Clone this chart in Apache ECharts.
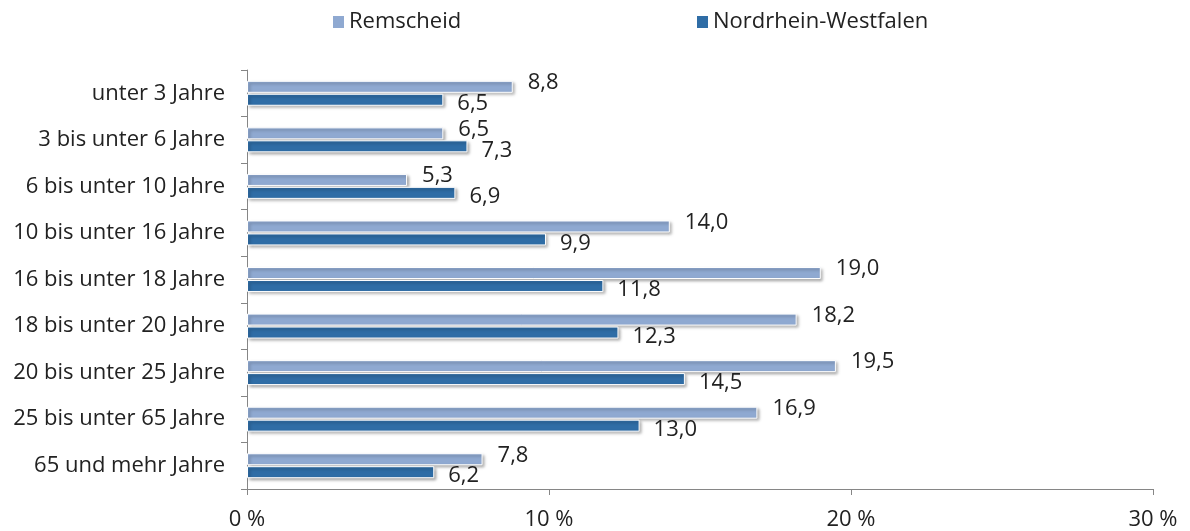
<!DOCTYPE html>
<html>
<head>
<meta charset="utf-8">
<script src="https://cdn.jsdelivr.net/npm/echarts@6/dist/echarts.min.js"></script>
<style>
html, body { margin: 0; padding: 0; background: #fff; }
#chart { width: 1190px; height: 531px; }
</style>
</head>
<body>
<div id="chart"></div>
<script>
var categories = ['unter 3 Jahre', '3 bis unter 6 Jahre', '6 bis unter 10 Jahre', '10 bis unter 16 Jahre',
    '16 bis unter 18 Jahre', '18 bis unter 20 Jahre', '20 bis unter 25 Jahre', '25 bis unter 65 Jahre', '65 und mehr Jahre'];
var remscheid = [8.8, 6.5, 5.3, 14.0, 19.0, 18.2, 19.5, 16.9, 7.8];
var nrw = [6.5, 7.3, 6.9, 9.9, 11.8, 12.3, 14.5, 13.0, 6.2];
var xTicks = [0, 10, 20, 30];

var font = 'Open Sans';
var fs = 22;
var textColor = '#222';
var axisColor = '#868686';

var fmt = function (p) { return p.value.toFixed(1).replace('.', ','); };

var barStyle = function (color) {
    return {
        color: color,
        borderColor: '#fff',
        borderWidth: 1,
        shadowColor: 'rgba(0,0,0,0.35)',
        shadowBlur: 3,
        shadowOffsetX: 2,
        shadowOffsetY: 2
    };
};

var legendItem = function (name, left) {
    return {
        left: left, top: 6,
        data: [name],
        icon: 'rect', itemWidth: 11, itemHeight: 12, itemGap: 8,
        itemStyle: { borderWidth: 0, borderColor: 'transparent', shadowBlur: 0, shadowOffsetX: 0, shadowOffsetY: 0 },
        textStyle: { fontSize: fs, color: textColor, fontFamily: font }
    };
};

var chart = echarts.init(document.getElementById('chart'));
var option = {
    animation: false,
    textStyle: { fontFamily: font },
    legend: [
        legendItem('Remscheid', 328),
        legendItem('Nordrhein-Westfalen', 692)
    ],
    grid: { left: 247, right: 37, top: 70, bottom: 42, containLabel: false },
    xAxis: {
        type: 'value',
        min: 0, max: 30, interval: 10,
        axisLine: { show: true, lineStyle: { color: axisColor } },
        axisTick: { show: true, length: 6, lineStyle: { color: axisColor } },
        splitLine: { show: false },
        axisLabel: {
            fontSize: fs, color: textColor, margin: 20,
            formatter: function (v) { return xTicks.indexOf(v) >= 0 ? v + ' %' : ''; }
        }
    },
    yAxis: {
        type: 'category',
        data: categories,
        inverse: true,
        axisLine: { show: true, lineStyle: { color: axisColor } },
        axisTick: { show: true, length: 6, lineStyle: { color: axisColor } },
        axisLabel: { fontSize: fs, color: textColor, margin: 22 }
    },
    series: [
        {
            name: 'Remscheid',
            type: 'bar',
            data: remscheid,
            barWidth: 12,
            barGap: '8%',
            itemStyle: barStyle('#8FA9D1'),
            label: {
                show: true, position: 'right', distance: 15, offset: [0, -4],
                fontSize: fs, color: textColor, formatter: fmt
            }
        },
        {
            name: 'Nordrhein-Westfalen',
            type: 'bar',
            data: nrw,
            barWidth: 12,
            itemStyle: barStyle('#2F6DA6'),
            label: {
                show: true, position: 'right', distance: 14, offset: [0, 4],
                fontSize: fs, color: textColor, formatter: fmt
            }
        }
    ]
};
chart.setOption(option);
</script>
</body>
</html>
